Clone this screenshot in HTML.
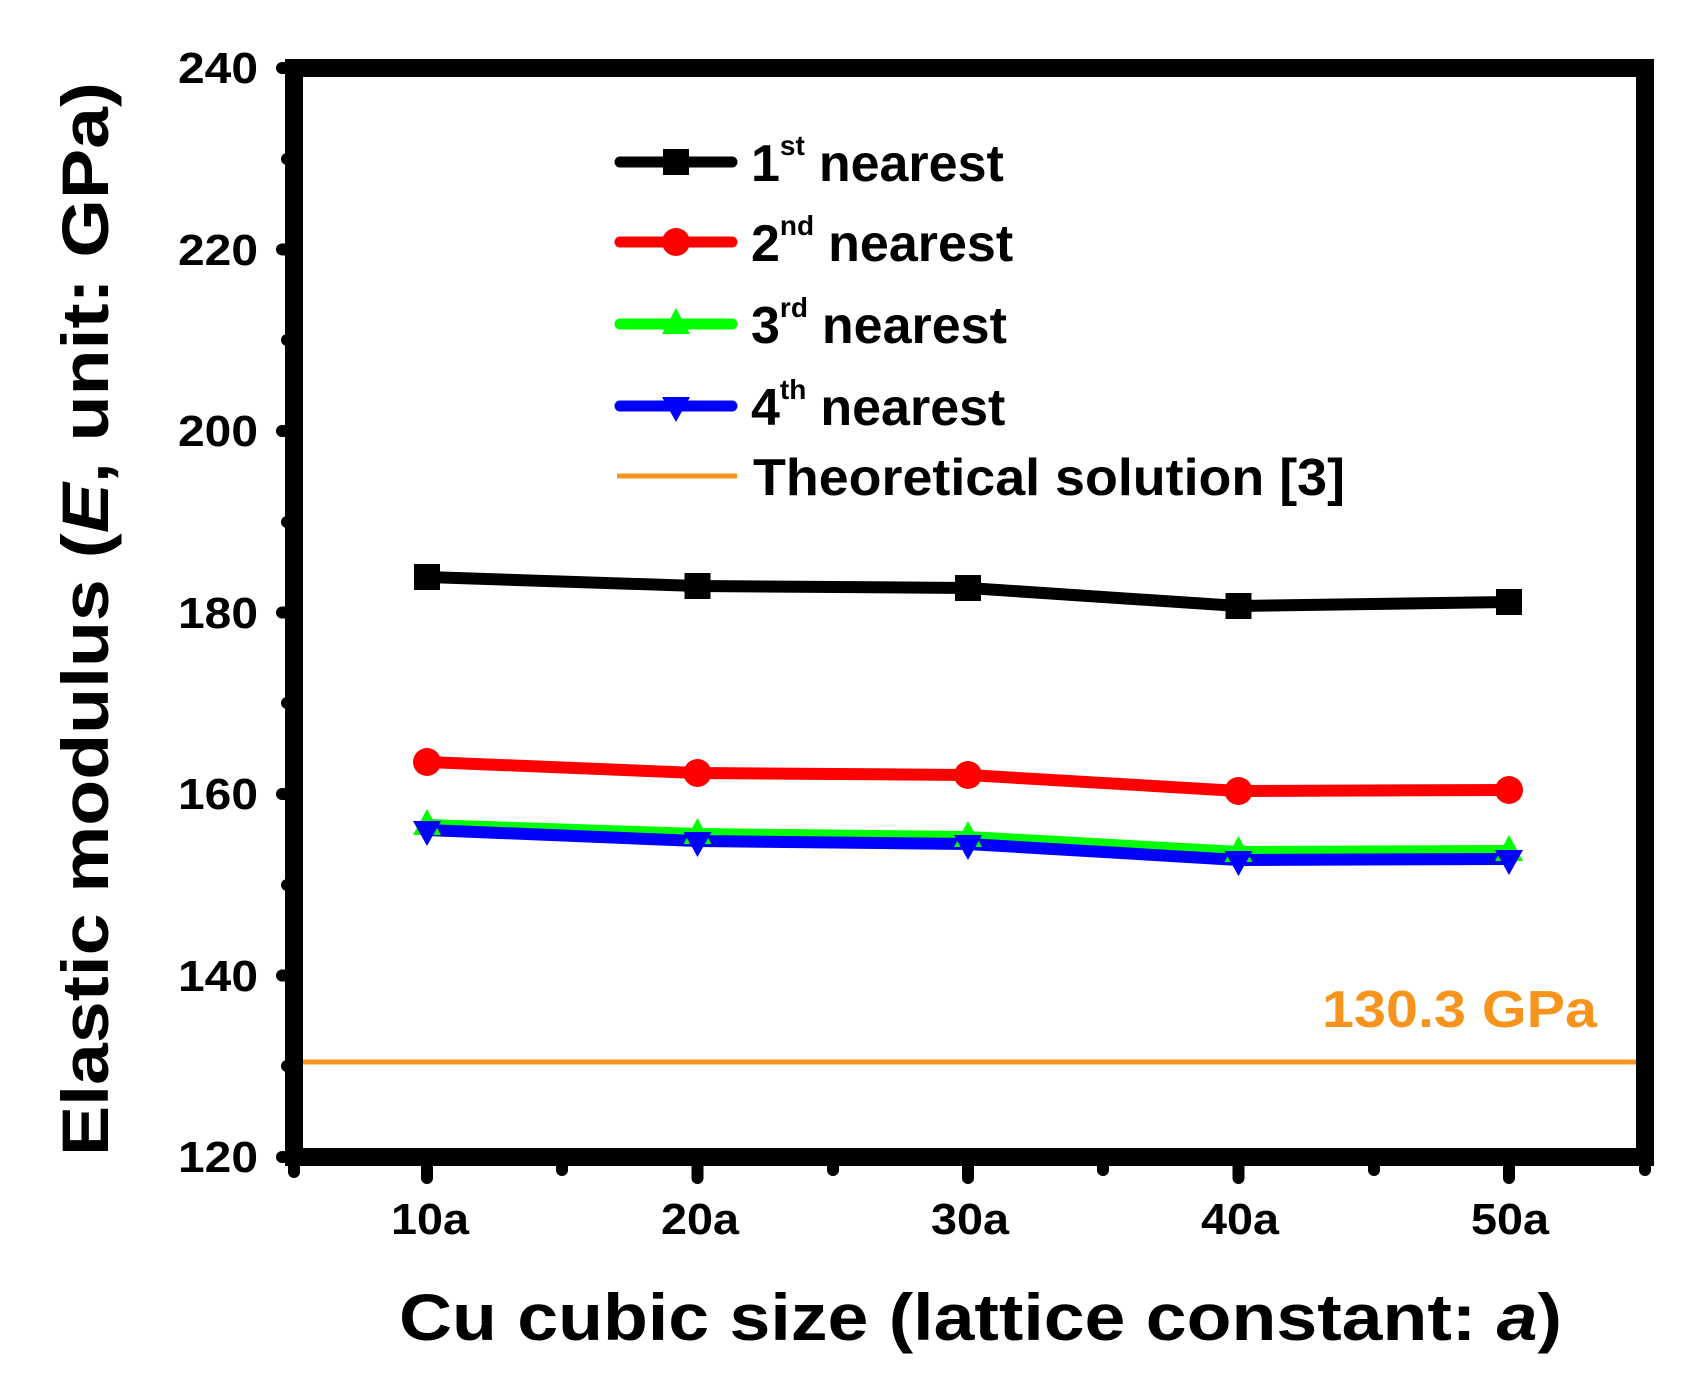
<!DOCTYPE html>
<html><head><meta charset="utf-8"><style>html,body{margin:0;padding:0;background:#fff}svg{display:block}</style></head>
<body>
<svg width="1704" height="1382" viewBox="0 0 1704 1382" xmlns="http://www.w3.org/2000/svg" font-family="Liberation Sans, Arial, sans-serif" font-weight="bold">
<rect width="1704" height="1382" fill="#fff"/>
<line x1="294" y1="1062" x2="1645" y2="1062" stroke="#F7941D" stroke-width="5"/>
<rect x="294" y="68" width="1351" height="1089" fill="none" stroke="#000" stroke-width="18"/>
<g stroke="#000" stroke-width="12" stroke-linecap="round">
<line x1="282" y1="68" x2="294" y2="68"/><line x1="282" y1="249.5" x2="294" y2="249.5"/><line x1="282" y1="431" x2="294" y2="431"/><line x1="282" y1="612.5" x2="294" y2="612.5"/><line x1="282" y1="794" x2="294" y2="794"/><line x1="282" y1="975.5" x2="294" y2="975.5"/><line x1="282" y1="1157" x2="294" y2="1157"/>
<line x1="287" y1="159" x2="294" y2="159"/><line x1="287" y1="340" x2="294" y2="340"/><line x1="287" y1="522" x2="294" y2="522"/><line x1="287" y1="703" x2="294" y2="703"/><line x1="287" y1="885" x2="294" y2="885"/><line x1="287" y1="1066" x2="294" y2="1066"/>
<line x1="427" y1="1157" x2="427" y2="1178"/><line x1="697.5" y1="1157" x2="697.5" y2="1178"/><line x1="968" y1="1157" x2="968" y2="1178"/><line x1="1238.5" y1="1157" x2="1238.5" y2="1178"/><line x1="1509" y1="1157" x2="1509" y2="1178"/>
<line x1="294" y1="1157" x2="294" y2="1172"/><line x1="562" y1="1157" x2="562" y2="1170"/><line x1="833" y1="1157" x2="833" y2="1170"/><line x1="1103" y1="1157" x2="1103" y2="1170"/><line x1="1374" y1="1157" x2="1374" y2="1170"/><line x1="1645" y1="1157" x2="1645" y2="1170"/>
</g>
<g font-size="44" text-anchor="end" fill="#000">
<text x="258" y="83" textLength="80" lengthAdjust="spacingAndGlyphs">240</text>
<text x="258" y="265" textLength="80" lengthAdjust="spacingAndGlyphs">220</text>
<text x="258" y="446" textLength="80" lengthAdjust="spacingAndGlyphs">200</text>
<text x="258" y="628" textLength="80" lengthAdjust="spacingAndGlyphs">180</text>
<text x="258" y="809" textLength="80" lengthAdjust="spacingAndGlyphs">160</text>
<text x="258" y="991" textLength="80" lengthAdjust="spacingAndGlyphs">140</text>
<text x="258" y="1172" textLength="80" lengthAdjust="spacingAndGlyphs">120</text>
</g>
<g font-size="44" text-anchor="middle" fill="#000">
<text x="430" y="1234" textLength="78" lengthAdjust="spacingAndGlyphs">10a</text>
<text x="700" y="1234" textLength="78" lengthAdjust="spacingAndGlyphs">20a</text>
<text x="970" y="1234" textLength="78" lengthAdjust="spacingAndGlyphs">30a</text>
<text x="1240" y="1234" textLength="78" lengthAdjust="spacingAndGlyphs">40a</text>
<text x="1510" y="1234" textLength="78" lengthAdjust="spacingAndGlyphs">50a</text>
</g>
<text x="399" y="1340" font-size="66" textLength="1163" lengthAdjust="spacingAndGlyphs">Cu cubic size (lattice constant: <tspan font-style="italic">a</tspan>)</text>
<text transform="translate(108,1156) rotate(-90)" font-size="66" textLength="1074" lengthAdjust="spacingAndGlyphs">Elastic modulus (<tspan font-style="italic">E</tspan>, unit: GPa)</text>
<text x="1322" y="1027" font-size="52" fill="#F7941D" textLength="275" lengthAdjust="spacingAndGlyphs">130.3 GPa</text>
<g fill="none" stroke-width="12" stroke-linejoin="round">
<polyline stroke="#000" points="427,577 697.5,586 968,588 1238.5,606 1509,602"/>
<polyline stroke="#f00" points="427,762 697.5,773 968,775 1238.5,791 1509,790"/>
<polyline stroke="#0f0" points="427,825 697.5,834 968,837 1238.5,852 1509,851"/>
<polyline stroke="#00f" points="427,830 697.5,841 968,844 1238.5,860 1509,859"/>
</g>
<g fill="#000">
<rect x="414" y="564" width="26" height="26"/><rect x="684.5" y="573" width="26" height="26"/><rect x="955" y="575" width="26" height="26"/><rect x="1225.5" y="593" width="26" height="26"/><rect x="1496" y="589" width="26" height="26"/>
</g>
<g fill="#f00">
<circle cx="427" cy="762" r="14"/><circle cx="697.5" cy="773" r="14"/><circle cx="968" cy="775" r="14"/><circle cx="1238.5" cy="791" r="14"/><circle cx="1509" cy="790" r="14"/>
</g>
<g fill="#0f0">
<polygon points="427,809 441,835 413,835"/><polygon points="697.5,818 711.5,844 683.5,844"/><polygon points="968,821 982,847 954,847"/><polygon points="1238.5,836 1252.5,862 1224.5,862"/><polygon points="1509,835 1523,861 1495,861"/>
</g>
<g fill="#00f">
<polygon points="413,821 441,821 427,846"/><polygon points="683.5,832 711.5,832 697.5,857"/><polygon points="954,835 982,835 968,860"/><polygon points="1224.5,851 1252.5,851 1238.5,876"/><polygon points="1495,850 1523,850 1509,875"/>
</g>
<g stroke-width="11" stroke-linecap="round">
<line x1="620" y1="162" x2="732" y2="162" stroke="#000"/>
<line x1="620" y1="242" x2="732" y2="242" stroke="#f00"/>
<line x1="620" y1="324" x2="732" y2="324" stroke="#0f0"/>
<line x1="620" y1="406" x2="732" y2="406" stroke="#00f"/>
</g>
<line x1="617" y1="476" x2="737" y2="476" stroke="#F7941D" stroke-width="5"/>
<rect x="663" y="149" width="26" height="26" fill="#000"/>
<circle cx="676" cy="242" r="14" fill="#f00"/>
<polygon points="676,308 690,334 662,334" fill="#0f0"/>
<polygon points="662,397 690,397 676,422" fill="#00f"/>
<g font-size="52" fill="#000">
<text x="751" y="181">1<tspan font-size="28" dy="-26">st</tspan><tspan dy="26" dx="14">nearest</tspan></text>
<text x="751" y="261">2<tspan font-size="28" dy="-26">nd</tspan><tspan dy="26" dx="14">nearest</tspan></text>
<text x="751" y="343">3<tspan font-size="28" dy="-26">rd</tspan><tspan dy="26" dx="14">nearest</tspan></text>
<text x="751" y="425">4<tspan font-size="28" dy="-26">th</tspan><tspan dy="26" dx="14">nearest</tspan></text>
<text x="753" y="495" textLength="592" lengthAdjust="spacingAndGlyphs">Theoretical solution [3]</text>
</g>
</svg>
</body></html>
